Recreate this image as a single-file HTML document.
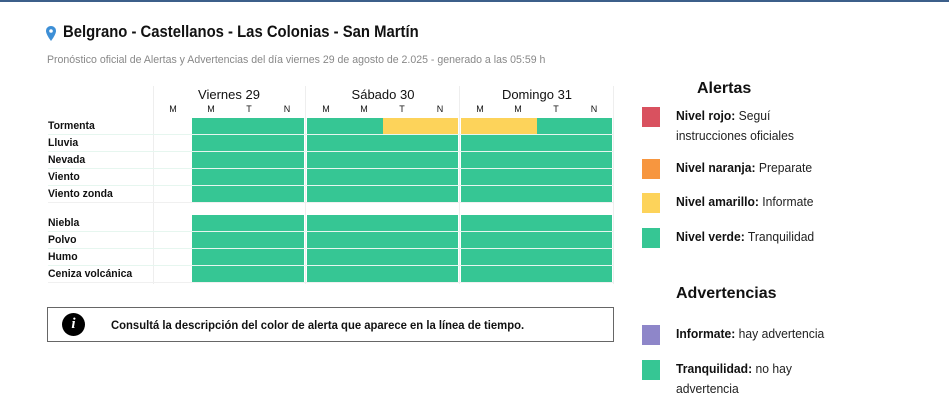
<!DOCTYPE html>
<html><head><meta charset="utf-8"><style>
*{margin:0;padding:0;box-sizing:border-box}
body{width:949px;height:403px;background:#fff;position:relative;overflow:hidden;font-family:"Liberation Sans",sans-serif;color:#111}
.a{position:absolute;white-space:nowrap}
.g{position:absolute;background:#36c694}
.y{position:absolute;background:#fdd35a}
.lbl{position:absolute;left:48px;font-size:11px;font-weight:bold;line-height:17px;transform:scaleX(0.95);transform-origin:left}
.vl{position:absolute;width:1px;background:#eee;top:86px;height:198px}
.hl{position:absolute;left:48px;width:565px;height:1px;background:#f0f0f0}
.sq{position:absolute;left:642px;width:18px;height:20px}
.lt{position:absolute;left:676px;font-size:12.5px;line-height:20px;color:#222;transform:scaleX(0.97);transform-origin:left}
.lt b{color:#111}
.sub{position:absolute;font-size:9px;width:38px;text-align:center;top:104px}
.day{position:absolute;font-size:13px;width:152px;text-align:center;top:87px}
</style></head><body>
<div class="a" style="left:0;top:0;width:949px;height:2px;background:#3c5f8a"></div>
<svg class="a" style="left:46px;top:26px" width="10" height="15" viewBox="0 0 10 15"><path d="M5 0C2 0 0 2.2 0 5c0 3.5 5 10 5 10s5-6.5 5-10C10 2.2 8 0 5 0z" fill="#3d8fd6"/><circle cx="5" cy="5" r="1.8" fill="#fff"/></svg>
<div class="a" style="left:63px;top:23px;font-size:16.5px;font-weight:bold;transform:scaleX(0.9);transform-origin:left">Belgrano - Castellanos - Las Colonias - San Martín</div>
<div class="a" style="left:47px;top:54px;font-size:11px;color:#888;transform:scaleX(0.96);transform-origin:left">Pronóstico oficial de Alertas y Advertencias del día viernes 29 de agosto de 2.025 - generado a las 05:59 h</div>

<div class="vl" style="left:153px"></div><div class="vl" style="left:305px"></div><div class="vl" style="left:459px"></div><div class="vl" style="left:613px"></div>

<div class="day" style="left:153px">Viernes 29</div>
<div class="day" style="left:307px">Sábado 30</div>
<div class="day" style="left:461px">Domingo 31</div>
<div class="sub" style="left:154px">M</div><div class="sub" style="left:192px">M</div><div class="sub" style="left:230px">T</div><div class="sub" style="left:268px">N</div>
<div class="sub" style="left:307px">M</div><div class="sub" style="left:345px">M</div><div class="sub" style="left:383px">T</div><div class="sub" style="left:421px">N</div>
<div class="sub" style="left:461px">M</div><div class="sub" style="left:499px">M</div><div class="sub" style="left:537px">T</div><div class="sub" style="left:575px">N</div>

<div class="g" style="left:192px;top:118px;width:112px;height:85px"></div>
<div class="g" style="left:307px;top:118px;width:151px;height:85px"></div>
<div class="g" style="left:461px;top:118px;width:151px;height:85px"></div>
<div class="y" style="left:383px;top:118px;width:75px;height:16px"></div>
<div class="y" style="left:461px;top:118px;width:76px;height:16px"></div>
<div class="g" style="left:192px;top:215px;width:112px;height:67px"></div>
<div class="g" style="left:307px;top:215px;width:151px;height:67px"></div>
<div class="g" style="left:461px;top:215px;width:151px;height:67px"></div>

<div class="hl" style="top:134px;background:#e6f6ef"></div><div class="hl" style="top:151px;background:#e6f6ef"></div><div class="hl" style="top:168px;background:#e6f6ef"></div><div class="hl" style="top:185px;background:#e6f6ef"></div><div class="hl" style="top:202px"></div>
<div class="hl" style="top:231px;background:#e6f6ef"></div><div class="hl" style="top:248px;background:#e6f6ef"></div><div class="hl" style="top:265px;background:#e6f6ef"></div><div class="hl" style="top:282px"></div>

<div class="lbl" style="top:118px">Tormenta</div>
<div class="lbl" style="top:135px">Lluvia</div>
<div class="lbl" style="top:152px">Nevada</div>
<div class="lbl" style="top:169px">Viento</div>
<div class="lbl" style="top:186px">Viento zonda</div>
<div class="lbl" style="top:215px">Niebla</div>
<div class="lbl" style="top:232px">Polvo</div>
<div class="lbl" style="top:249px">Humo</div>
<div class="lbl" style="top:266px">Ceniza volcánica</div>

<div class="a" style="left:47px;top:307px;width:567px;height:35px;border:1px solid #666"></div>
<div class="a" style="left:62px;top:313px;width:23px;height:23px;border-radius:50%;background:#000;color:#fff;font:italic bold 15px 'Liberation Serif',serif;text-align:center;line-height:23px">i</div>
<div class="a" style="left:111px;top:318px;font-size:12px;font-weight:bold;transform:scaleX(0.94);transform-origin:left">Consultá la descripción del color de alerta que aparece en la línea de tiempo.</div>

<div class="a" style="left:697px;top:80px;font-size:16px;font-weight:bold">Alertas</div>
<div class="sq" style="top:107px;background:#d9515f"></div>
<div class="lt" style="top:106px"><b>Nivel rojo:</b> Seguí<br>instrucciones oficiales</div>
<div class="sq" style="top:159px;background:#f7963f"></div>
<div class="lt" style="top:158px"><b>Nivel naranja:</b> Preparate</div>
<div class="sq" style="top:193px;background:#fdd35a"></div>
<div class="lt" style="top:192px"><b>Nivel amarillo:</b> Informate</div>
<div class="sq" style="top:228px;background:#36c694"></div>
<div class="lt" style="top:227px"><b>Nivel verde:</b> Tranquilidad</div>

<div class="a" style="left:676px;top:285px;font-size:16px;font-weight:bold">Advertencias</div>
<div class="sq" style="top:325px;background:#8e86c9"></div>
<div class="lt" style="top:324px"><b>Informate:</b> hay advertencia</div>
<div class="sq" style="top:360px;background:#36c694"></div>
<div class="lt" style="top:359px"><b>Tranquilidad:</b> no hay<br>advertencia</div>
</body></html>
